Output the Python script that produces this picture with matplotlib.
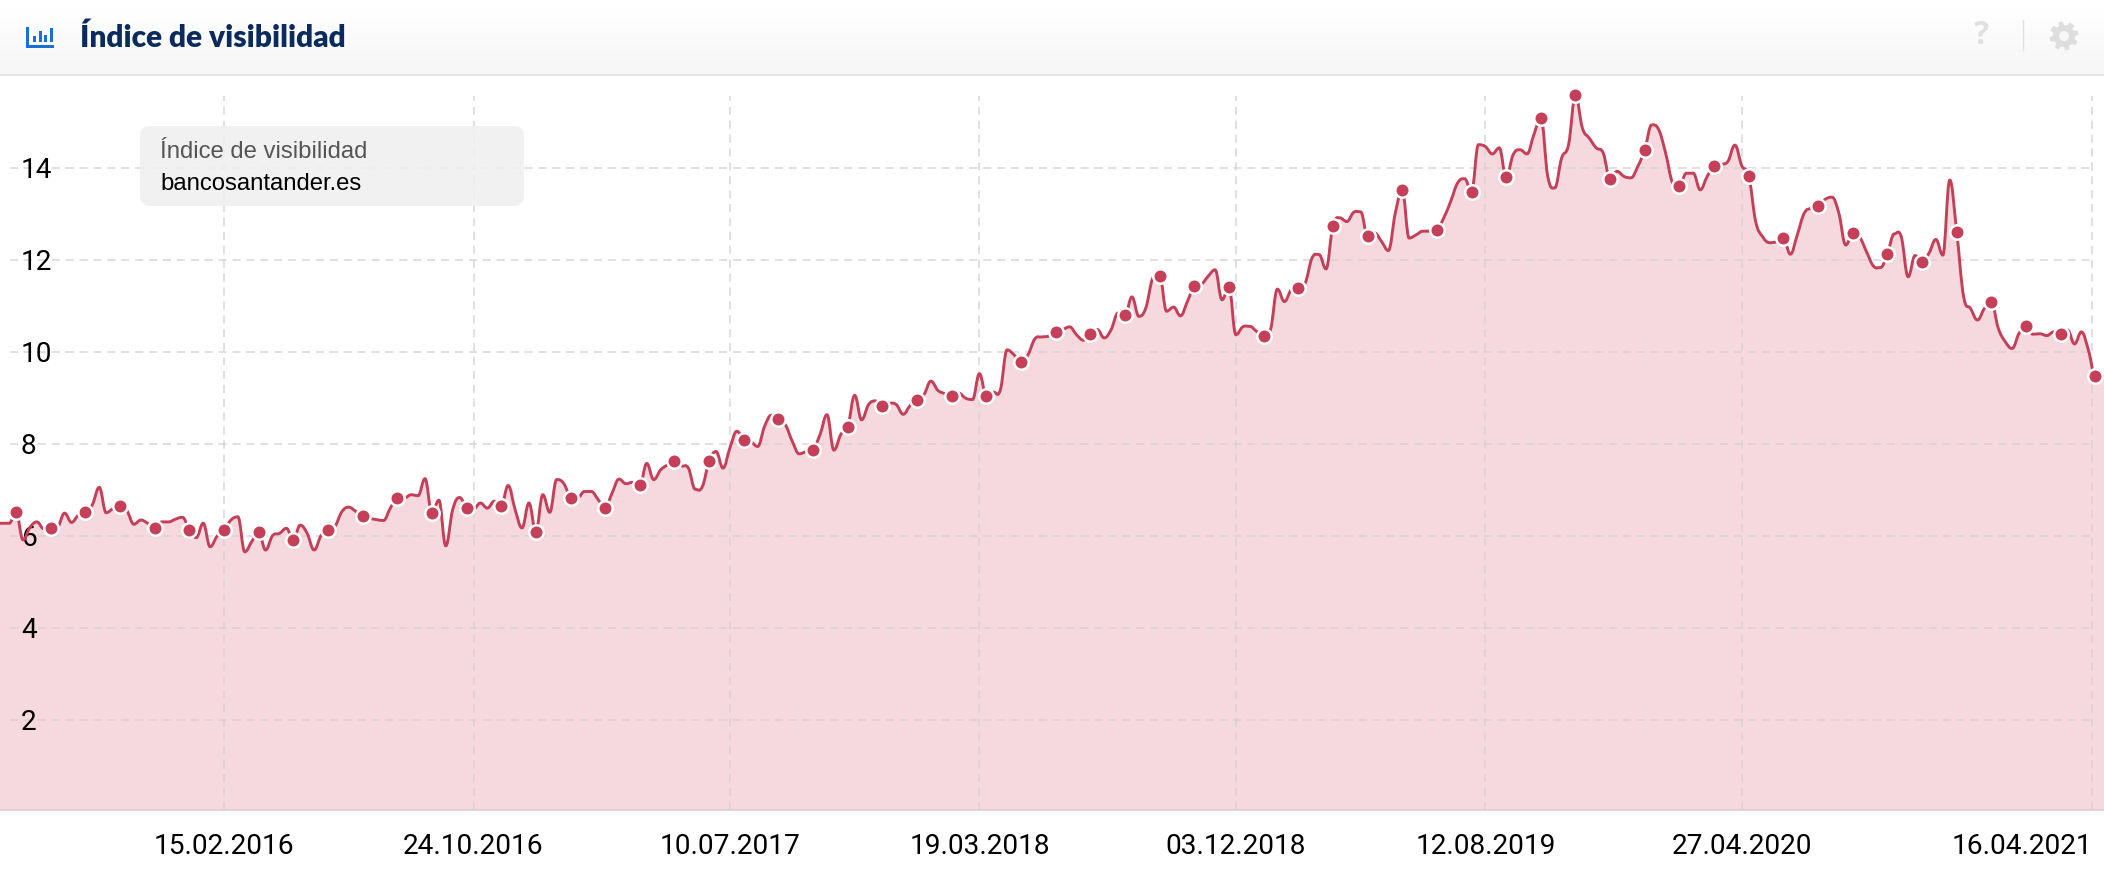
import matplotlib
matplotlib.use('Agg')
import matplotlib.pyplot as plt
import matplotlib.dates as mdates
import numpy as np
from matplotlib.patches import Circle, FancyBboxPatch, PathPatch, Polygon, Rectangle
from matplotlib.path import Path

# weekly values, first week is 29.06.2015
values = [
    6.27, 6.27, 6.27, 6.51, 5.91, 6.18, 6.30, 6.15, 6.17, 6.18,
    6.49, 6.29, 6.45, 6.51, 6.67, 7.05, 6.50, 6.59, 6.65, 6.54,
    6.25, 6.34, 6.27, 6.17, 6.30, 6.30, 6.36, 6.40, 6.12, 5.96,
    6.27, 5.76, 5.99, 6.12, 6.34, 6.41, 5.65, 5.87, 6.08, 5.69,
    6.00, 6.05, 6.16, 5.91, 6.23, 6.05, 5.69, 6.00, 6.12, 6.20,
    6.52, 6.62, 6.53, 6.43, 6.38, 6.35, 6.33, 6.60, 6.82, 6.82,
    6.89, 6.87, 7.24, 6.49, 6.77, 5.78, 6.57, 6.83, 6.61, 6.58,
    6.71, 6.60, 6.75, 6.65, 7.09, 6.57, 6.17, 6.71, 6.09, 6.89,
    6.51, 7.22, 7.14, 6.83, 6.82, 6.96, 6.96, 6.78, 6.61, 6.93,
    7.23, 7.13, 7.16, 7.10, 7.57, 7.22, 7.43, 7.54, 7.63, 7.52,
    7.47, 7.01, 7.06, 7.62, 7.83, 7.47, 7.91, 8.27, 8.09, 8.05,
    7.94, 8.38, 8.62, 8.53, 8.41, 8.05, 7.78, 7.83, 7.87, 8.20,
    8.63, 7.86, 8.20, 8.36, 9.05, 8.52, 8.85, 8.93, 8.83, 8.88,
    8.85, 8.64, 8.83, 8.96, 9.07, 9.36, 9.16, 9.09, 9.04, 9.10,
    8.99, 8.96, 9.52, 9.04, 9.12, 9.16, 10.04, 9.93, 9.78, 9.93,
    10.28, 10.32, 10.34, 10.43, 10.48, 10.54, 10.37, 10.25, 10.39, 10.48,
    10.30, 10.48, 10.84, 10.79, 11.19, 10.77, 10.95, 11.60, 11.65, 10.88,
    10.97, 10.78, 11.09, 11.43, 11.46, 11.64, 11.78, 11.13, 11.40, 10.37,
    10.54, 10.55, 10.44, 10.35, 10.48, 11.36, 11.09, 11.35, 11.39, 11.49,
    12.04, 12.11, 11.80, 12.74, 12.91, 12.83, 13.03, 13.04, 12.52, 12.58,
    12.40, 12.20, 13.01, 13.52, 12.47, 12.54, 12.62, 12.62, 12.65, 12.91,
    13.27, 13.67, 13.76, 13.48, 14.50, 14.46, 14.30, 14.43, 13.79, 14.28,
    14.39, 14.30, 14.72, 15.09, 13.81, 13.56, 14.21, 14.50, 15.57, 14.86,
    14.64, 14.43, 14.32, 13.75, 13.92, 13.81, 13.78, 14.03, 14.39, 14.93,
    14.83, 14.32, 13.67, 13.61, 13.88, 13.88, 13.52, 13.81, 14.04, 14.07,
    14.14, 14.49, 14.04, 13.83, 12.83, 12.50, 12.37, 12.39, 12.47, 12.12,
    12.54, 13.01, 13.12, 13.17, 13.31, 13.36, 13.01, 12.32, 12.57, 12.49,
    12.17, 11.86, 11.83, 12.12, 12.56, 12.50, 11.63, 12.09, 11.96, 12.14,
    12.44, 12.10, 13.73, 12.61, 11.20, 10.94, 10.69, 10.94, 11.08, 10.51,
    10.22, 10.07, 10.40, 10.56, 10.38, 10.39, 10.35, 10.43, 10.38, 10.47,
    10.17, 10.43, 10.04, 9.47, 9.47, 9.47,
]
first_week = '2015-06-29'
tick_dates = ['2016-02-15', '2016-10-24', '2017-07-10', '2018-03-19',
              '2018-12-03', '2019-08-12', '2020-04-27', '2021-04-16']
tick_labels = ['15.02.2016', '24.10.2016', '10.07.2017', '19.03.2018',
               '03.12.2018', '12.08.2019', '27.04.2020', '16.04.2021']
y_ticks = [2, 4, 6, 8, 10, 12, 14]

RED = '#c43f57'
FILL = '#f5d9de'
GRID = '#d6d1d3'
W, H = 2104, 876
DASH = (0, (5.3, 3.8))


def smooth_path(x, y):
    # bezier through the points, flat tangent on peaks and dips
    x = np.asarray(x, dtype=float)
    y = np.asarray(y, dtype=float)
    m = np.zeros(len(y))
    for i in range(1, len(y) - 1):
        if (y[i] - y[i - 1]) * (y[i + 1] - y[i]) > 0:
            m[i] = (y[i + 1] - y[i - 1]) / (x[i + 1] - x[i - 1])
    verts = [(x[0], y[0])]
    codes = [Path.MOVETO]
    for i in range(len(y) - 1):
        dx = (x[i + 1] - x[i]) * 0.4
        verts += [(x[i] + dx, y[i] + m[i] * dx),
                  (x[i + 1] - dx, y[i + 1] - m[i + 1] * dx),
                  (x[i + 1], y[i + 1])]
        codes += [Path.CURVE4] * 3
    return verts, codes


fig = plt.figure(figsize=(W / 100, H / 100), dpi=100, facecolor='white')
ax = fig.add_axes([0, (H - 810) / H, 1, (810 - 76) / H])

dates = np.datetime64(first_week) + 7 * np.arange(len(values)).astype('timedelta64[D]')
x = mdates.date2num(dates)
y = np.array(values)
ticks = mdates.date2num(np.array(tick_dates, dtype='datetime64[D]'))

# 15.02.2016 sits on pixel 224, about 0.99 px a day
x0 = mdates.date2num(np.datetime64('2016-02-15'))
ax.set_xlim(x0 - 224 / 0.9901, x0 + (W - 224) / 0.9901)
ax.set_ylim((811.7 - 810) / 46, (811.7 - 76) / 46)

verts, codes = smooth_path(x, y)
bottom = ax.get_ylim()[0]
fill_verts = verts + [(x[-1], bottom), (x[0], bottom), (x[0], y[0])]
fill_codes = codes + [Path.LINETO, Path.LINETO, Path.CLOSEPOLY]
ax.add_patch(PathPatch(Path(fill_verts, fill_codes), facecolor=FILL, edgecolor='none', zorder=1))

ax.hlines(y_ticks, x0 - 214 / 0.9901, x0 + 1870 / 0.9901, colors=GRID, linewidth=1.1,
          linestyles=DASH, alpha=0.9, zorder=1.5)
ax.vlines(ticks, bottom, (811.7 - 96) / 46, colors=GRID, linewidth=1.1,
          linestyles=DASH, alpha=0.9, zorder=1.5)

ax.add_patch(PathPatch(Path(verts, codes), facecolor='none', edgecolor=RED, linewidth=2.1, zorder=3))
ax.plot(x[3::5][:61], y[3::5][:61], linestyle='none', marker='o', markersize=10.4, markerfacecolor=RED,
        markeredgecolor='white', markeredgewidth=1.8, zorder=4)

ax.set_xticks(ticks)
ax.set_xticklabels(tick_labels, family='Roboto', fontsize=20.2, color='#000000')
ax.get_xticklabels()[-1].set_ha('right')
ax.set_yticks(y_ticks)
ax.set_yticklabels(y_ticks, family='Roboto', fontsize=20.2, color='#000000', ha='left')
ax.tick_params(axis='x', length=0, pad=16.5)
ax.tick_params(axis='y', length=0, pad=-15.1)
ax.xaxis.set_zorder(2)
ax.yaxis.set_zorder(2)
for side in ['top', 'left', 'right']:
    ax.spines[side].set_visible(False)
ax.spines['bottom'].set_color('#d9cdd1')
ax.spines['bottom'].set_linewidth(1.1)
ax.patch.set_alpha(0)

# header and legend box in pixel coordinates
top = fig.add_axes([0, 0, 1, 1], zorder=5)
top.patch.set_alpha(0)
top.axis('off')
grad = np.linspace(1.0, 0.96, 74).reshape(-1, 1)
top.imshow(grad, extent=(0, W, 74, 0), cmap='gray', vmin=0, vmax=1, aspect='auto', zorder=1)
top.add_patch(Rectangle((0, 74), W, 2, facecolor='#e6e6e6', edgecolor='none', zorder=2))
top.set_xlim(0, W)
top.set_ylim(H, 0)

top.text(80, 38, 'Índice de visibilidad', family='Lato', weight='heavy', fontsize=21.5,
         color='#0b2a5e', va='center', zorder=3)

# chart icon
ICON = '#1a6fd6'
top.add_patch(Rectangle((26, 27), 3, 21, facecolor=ICON, zorder=3))
top.add_patch(Rectangle((26, 45), 28, 3, facecolor=ICON, zorder=3))
for bx, bh in zip([33, 38.5, 44, 49.5], [6, 11, 7, 14]):
    top.add_patch(Rectangle((bx, 42 - bh), 3, bh, facecolor=ICON, zorder=3))

top.text(1982, 36, '?', family='Open Sans', weight='bold', fontsize=23, color='#e0e0e0',
         ha='center', va='center', zorder=3)
top.plot([2022.7, 2022.7], [20, 50], color='#e0e0e0', linewidth=1, zorder=3)

# gear: 8 teeth and a hole
angles = np.linspace(0, 2 * np.pi, 64, endpoint=False)
radius = np.where(((angles + np.pi / 8) % (np.pi / 4)) < np.pi / 8, 14.5, 11)
top.add_patch(Polygon(np.column_stack([2064 + radius * np.cos(angles), 36 + radius * np.sin(angles)]),
                      facecolor='#dedede', edgecolor='none', zorder=3))
top.add_patch(Circle((2064, 36), 5, facecolor='#f8f8f8', edgecolor='none', zorder=4))

top.add_patch(FancyBboxPatch((148, 134), 368, 64, boxstyle='round,pad=8,rounding_size=10',
                             facecolor='#f0f0f0', edgecolor='none', alpha=0.88, zorder=3))
top.text(160, 151.5, 'Índice de visibilidad', family='Liberation Sans', fontsize=17.2, color='#555555',
         va='center', zorder=4)
top.text(160, 184, 'bancosantander.es', family='Liberation Sans', fontsize=17.2, color='#000000',
         va='center', zorder=4)

fig.savefig('out.png', dpi=100)
